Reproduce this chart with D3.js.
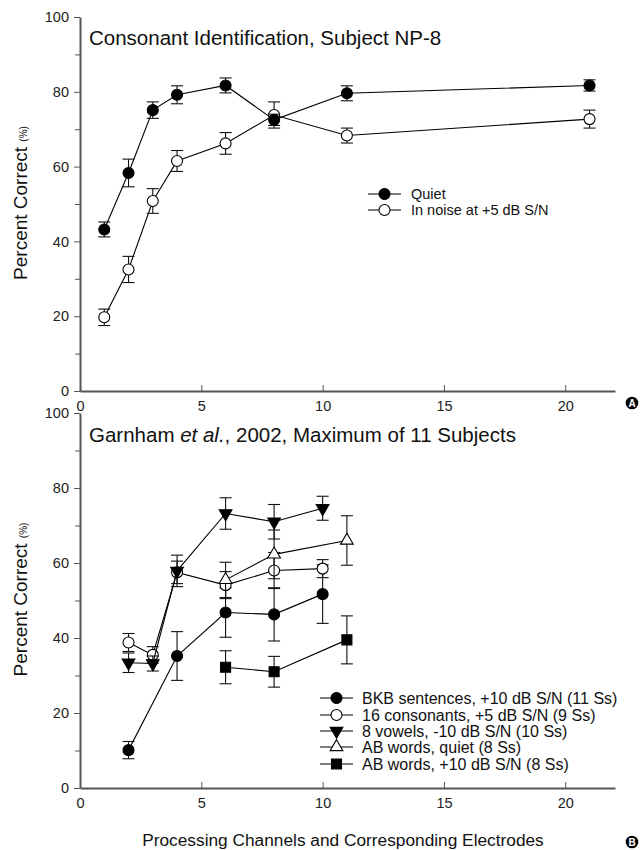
<!DOCTYPE html>
<html>
<head>
<meta charset="utf-8">
<script src="https://cdn.jsdelivr.net/npm/d3@7"></script>
<style>
  body { margin: 0; background: #fff; }
  svg { font-family: "Liberation Sans", Arial, sans-serif; display: block; }
  .axis path, .axis line { stroke: #555; }
  .axis path { stroke-width: 2; }
  .axis text { font-size: 14.5px; fill: #222; }
</style>
</head>
<body>
<svg id="chart" width="641" height="850"></svg>
<script>
/* ==== Data ==== */
// panel A: consonant identification, subject NP-8
var channelsA = [1, 2, 3, 4, 6, 8, 11, 21];
var quietVals = [43.2, 58.3, 75.1, 79.2, 81.7, 72.5, 79.6, 81.7];
var quietErr  = [2.0, 3.7, 2.2, 2.4, 2.0, 1.5, 2.0, 1.5];
var noiseVals = [19.7, 32.5, 50.8, 61.5, 66.2, 73.8, 68.3, 72.7];
var noiseErr  = [2.2, 3.5, 3.3, 2.8, 2.9, 3.5, 2.0, 2.4];

// panel B: Garnham et al. 2002
var bkbX = [2, 4, 6, 8, 10];
var bkbVals = [10.1, 35.2, 46.8, 46.3, 51.7];
var bkbErr  = [2.3, 6.5, 6.6, 7.1, 7.8];
var consX = [2, 3, 4, 6, 8, 10];
var consVals = [38.8, 35.5, 57.5, 54.1, 58.0, 58.5];
var consErr  = [2.4, 2.2, 3.0, 3.6, 4.8, 2.4];
var vowX = [2, 3, 4, 6, 8, 10];
var vowVals = [33.4, 33.2, 57.9, 73.2, 71.0, 74.6];
var vowErr  = [2.6, 2.0, 4.2, 4.2, 4.6, 3.2];
var abQuietX = [6, 8, 11];
var abQuietVals = [55.5, 62.3, 66.0];
var abQuietErr  = [4.7, 6.5, 6.6];
var abNoiseX = [6, 8, 11];
var abNoiseVals = [32.2, 31.0, 39.5];
var abNoiseErr  = [4.4, 4.1, 6.4];

var xTicks = [0, 5, 10, 15, 20];
var yTicks = [0, 20, 40, 60, 80, 100];
var yMinor = [10, 30, 50, 70, 90];

/* ==== Layout ==== */
var LEFT = 80, RIGHT = 615;
var svg = d3.select("#chart");
var x = d3.scaleLinear().domain([0, 22.05]).range([LEFT, RIGHT]);

function zip(xs, ys, es) { return xs.map((v, i) => ({ x: v, y: ys[i], e: es[i] })); }

var shapes = {
  circle: { type: d3.symbolCircle, size: 95, rot: 0 },
  down:   { type: d3.symbolTriangle, size: 70, rot: 180 },
  up:     { type: d3.symbolTriangle, size: 70, rot: 0 },
  square: { type: d3.symbolSquare, size: 100, rot: 0 }
};

function drawPanel(top, bottom, series, title) {
  var y = d3.scaleLinear().domain([0, 100]).range([bottom, top]);
  var g = svg.append("g");

  g.append("g").attr("class", "axis")
    .attr("transform", "translate(0," + bottom + ")")
    .call(d3.axisBottom(x).tickValues(xTicks).tickSizeInner(-6).tickSizeOuter(0).tickPadding(12))
    .selectAll("text").attr("dy", "0.55em");

  g.append("g").attr("class", "axis")
    .attr("transform", "translate(" + LEFT + ",0)")
    .call(d3.axisLeft(y).tickValues(yTicks).tickSize(6).tickSizeOuter(0).tickPadding(5));
  g.append("g").attr("class", "axis")
    .attr("transform", "translate(" + LEFT + ",0)")
    .call(d3.axisLeft(y).tickValues(yMinor).tickSize(5).tickFormat(""))
    .select("path").remove();

  title(g);

  // y label
  var yl = g.append("text")
    .attr("transform", "translate(27," + ((top + bottom) / 2 - 1) + ") rotate(-90)")
    .attr("text-anchor", "middle")
    .style("font-size", "19px").attr("fill", "#111");
  yl.append("tspan").text("Percent Correct ");
  yl.append("tspan").style("font-size", "10px").text("(%)");

  series.forEach(function(s) {
    var pts = zip(s.x, s.y, s.e);
    var sg = g.append("g");
    sg.append("path").datum(pts)
      .attr("fill", "none").attr("stroke", "#000").attr("stroke-width", 1.1)
      .attr("d", d3.line().x(d => x(d.x)).y(d => y(d.y)));
    var eb = sg.selectAll(".err").data(pts).enter().append("g")
      .attr("stroke", "#111").attr("stroke-width", 1.1);
    eb.append("line").attr("x1", d => x(d.x)).attr("x2", d => x(d.x))
      .attr("y1", d => y(d.y + d.e)).attr("y2", d => y(d.y - d.e));
    eb.append("line").attr("x1", d => x(d.x) - 6).attr("x2", d => x(d.x) + 6)
      .attr("y1", d => y(d.y + d.e)).attr("y2", d => y(d.y + d.e));
    eb.append("line").attr("x1", d => x(d.x) - 6).attr("x2", d => x(d.x) + 6)
      .attr("y1", d => y(d.y - d.e)).attr("y2", d => y(d.y - d.e));
    var sh = shapes[s.shape];
    sg.selectAll(".pt").data(pts).enter().append("path")
      .attr("d", d3.symbol().type(sh.type).size(sh.size))
      .attr("transform", d => "translate(" + x(d.x) + "," + y(d.y) + ") rotate(" + sh.rot + ")")
      .attr("fill", s.filled ? "#000" : "#fff")
      .attr("stroke", "#000").attr("stroke-width", 1.1);
  });
  return y;
}

function drawLegend(series, lx0, lx1, tx, rowYs, fontSize) {
  var lg = svg.append("g");
  series.forEach(function(s, i) {
    var yy = rowYs[i];
    lg.append("line").attr("x1", lx0).attr("x2", lx1).attr("y1", yy).attr("y2", yy)
      .attr("stroke", "#000").attr("stroke-width", 1.1);
    var sh = shapes[s.shape];
    lg.append("path").attr("d", d3.symbol().type(sh.type).size(sh.size))
      .attr("transform", "translate(" + ((lx0 + lx1) / 2) + "," + yy + ") rotate(" + sh.rot + ")")
      .attr("fill", s.filled ? "#000" : "#fff").attr("stroke", "#000").attr("stroke-width", 1.1);
    lg.append("text").attr("x", tx).attr("y", yy).attr("dy", "0.36em")
      .style("font-size", fontSize).attr("fill", "#111").text(s.label);
  });
}

function panelBadge(cx, cy, letter) {
  svg.append("circle").attr("cx", cx).attr("cy", cy).attr("r", 6.3).attr("fill", "#000");
  svg.append("text").attr("x", cx).attr("y", cy).attr("dy", "0.36em")
    .attr("text-anchor", "middle").attr("fill", "#fff")
    .style("font-size", "10px").style("font-weight", "bold").text(letter);
}

/* ==== Panel A ==== */
var seriesA = [
  { x: channelsA, y: noiseVals, e: noiseErr, shape: "circle", filled: false, label: "In noise at +5 dB S/N" },
  { x: channelsA, y: quietVals, e: quietErr, shape: "circle", filled: true, label: "Quiet" }
];
drawPanel(17, 391, seriesA, function(g) {
  g.append("text").attr("x", 89).attr("y", 45)
    .style("font-size", "20.5px").attr("fill", "#111")
    .text("Consonant Identification, Subject NP-8");
});
drawLegend([seriesA[1], seriesA[0]], 368, 401, 411, [194, 210], "14.5px");
panelBadge(632, 403, "A");

/* ==== Panel B ==== */
var seriesB = [
  { x: bkbX, y: bkbVals, e: bkbErr, shape: "circle", filled: true, label: "BKB sentences, +10 dB S/N (11 Ss)" },
  { x: consX, y: consVals, e: consErr, shape: "circle", filled: false, label: "16 consonants, +5 dB S/N (9 Ss)" },
  { x: vowX, y: vowVals, e: vowErr, shape: "down", filled: true, label: "8 vowels, -10 dB S/N (10 Ss)" },
  { x: abQuietX, y: abQuietVals, e: abQuietErr, shape: "up", filled: false, label: "AB words, quiet (8 Ss)" },
  { x: abNoiseX, y: abNoiseVals, e: abNoiseErr, shape: "square", filled: true, label: "AB words, +10 dB S/N (8 Ss)" }
];
drawPanel(413, 788, seriesB, function(g) {
  var t = g.append("text").attr("x", 89).attr("y", 442)
    .style("font-size", "20.5px").attr("fill", "#111");
  t.append("tspan").text("Garnham ");
  t.append("tspan").style("font-style", "italic").text("et al.");
  t.append("tspan").text(", 2002, Maximum of 11 Subjects");
});
drawLegend(seriesB, 320, 353, 362, [698, 715, 731, 747, 764], "16px");
panelBadge(632, 842, "B");

svg.append("text").attr("x", 343).attr("y", 846)
  .attr("text-anchor", "middle").style("font-size", "17.3px").attr("fill", "#111")
  .text("Processing Channels and Corresponding Electrodes");
</script>
</body>
</html>
